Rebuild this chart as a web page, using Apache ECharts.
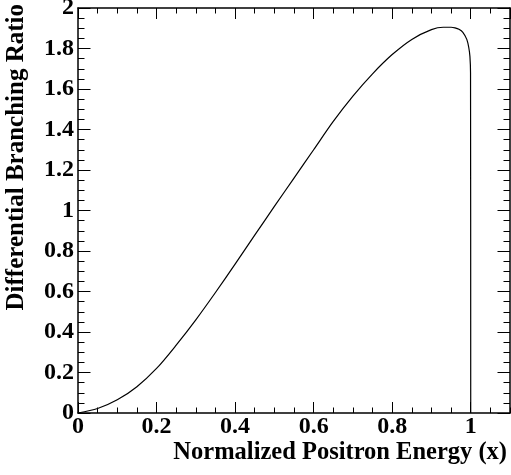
<!DOCTYPE html>
<html>
<head>
<meta charset="utf-8">
<script src="https://cdn.jsdelivr.net/npm/echarts@6/dist/echarts.min.js"></script>
<style>
    html, body { margin: 0; padding: 0; background: #fff; }
    #chart { width: 511px; height: 475px; }
</style>
</head>
<body>
<div id="chart"></div>
<script>
    // values
    let energyX = [0, 0.05, 0.10, 0.15, 0.20, 0.25, 0.30, 0.35, 0.40, 0.45, 0.50, 0.55, 0.60, 0.65, 0.70, 0.75, 0.80, 0.85, 0.90, 0.93, 0.95, 0.96, 0.97, 0.98, 0.99, 0.995, 0.998, 0.9995, 1.0]
    let ratioY = [0, 0.022, 0.065, 0.130, 0.220, 0.335, 0.460, 0.595, 0.735, 0.878, 1.020, 1.160, 1.300, 1.440, 1.565, 1.675, 1.770, 1.845, 1.893, 1.905, 1.905, 1.902, 1.895, 1.880, 1.845, 1.805, 1.760, 1.680, 0]
    let xTitle = 'Normalized Positron Energy (x)'
    let yTitle = 'Differential Branching Ratio'

    let points = []
    for (let i = 0; i < energyX.length; i++) {
        points.push([energyX[i], ratioY[i]])
    }

    let font = 'Liberation Serif'
    let frameLine = { show: true, onZero: false, lineStyle: { color: '#000', width: 1.5 } }
    let noLine = { show: false, onZero: false }

    // builds one axis; major axes carry the frame line, minor ones only short ticks
    function axis (pos, max, step, tickLen, extra) {
        let a = {
            type: 'value',
            position: pos,
            min: 0,
            max: max,
            interval: step,
            axisLine: noLine,
            axisTick: { show: true, inside: true, length: tickLen, lineStyle: { color: '#000', width: 1 } },
            axisLabel: { show: false },
            splitLine: { show: false }
        }
        return Object.assign(a, extra || {})
    }

    let labelStyle = {
        show: true,
        color: '#000',
        fontFamily: font,
        fontWeight: 'bold',
        fontSize: 24
    }

    let option = {
        animation: false,
        backgroundColor: '#fff',
        grid: {
            left: 78,
            top: 8,
            right: 1,
            bottom: 62,
            outerBoundsMode: 'none'
        },
        xAxis: [
            axis('bottom', 1.1, 0.2, 11, {
                axisLine: frameLine,
                axisLabel: Object.assign({}, labelStyle, { margin: 2, showMaxLabel: false }),
                name: xTitle,
                nameLocation: 'end',
                nameGap: -3,
                nameTextStyle: {
                    color: '#000',
                    fontFamily: font,
                    fontWeight: 'bold',
                    fontSize: 24.5,
                    align: 'right',
                    verticalAlign: 'top',
                    padding: [27, 0, 0, 0]
                }
            }),
            axis('bottom', 1.1, 0.05, 5.5),
            axis('top', 1.1, 0.2, 11, { axisLine: frameLine }),
            axis('top', 1.1, 0.05, 5.5)
        ],
        yAxis: [
            axis('left', 2, 0.2, 12.5, {
                axisLine: frameLine,
                axisLabel: Object.assign({}, labelStyle, { margin: 4 })
            }),
            axis('left', 2, 0.05, 6.5),
            axis('right', 2, 0.2, 12.5, { axisLine: frameLine }),
            axis('right', 2, 0.05, 6.5),
            // holder for the rotated y title only
            {
                type: 'value',
                position: 'left',
                offset: 61,
                min: 0,
                max: 2,
                axisLine: noLine,
                axisTick: { show: false },
                axisLabel: { show: false },
                splitLine: { show: false },
                name: yTitle,
                nameLocation: 'end',
                nameRotate: 90,
                nameGap: 4,
                nameTextStyle: {
                    color: '#000',
                    fontFamily: font,
                    fontWeight: 'bold',
                    fontSize: 25,
                    align: 'right',
                    verticalAlign: 'middle'
                }
            }
        ],
        series: [
            {
                type: 'line',
                xAxisIndex: 0,
                yAxisIndex: 0,
                showSymbol: false,
                symbol: 'none',
                smooth: 0.3,
                lineStyle: { color: '#000', width: 1.2 },
                data: points
            }
        ]
    }

    let myChart = echarts.init(document.getElementById('chart'))
    myChart.setOption(option)
</script>
</body>
</html>
